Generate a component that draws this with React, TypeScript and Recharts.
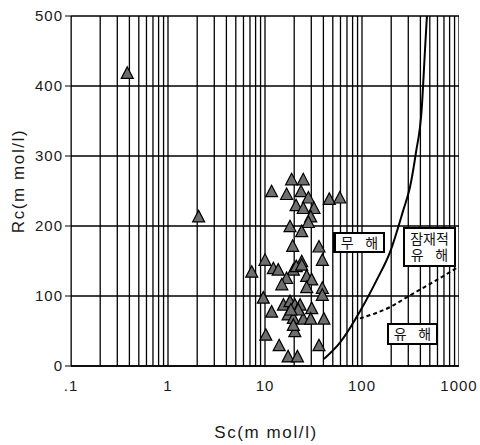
import React from "react";
import {
  CartesianGrid,
  ComposedChart,
  Line,
  ReferenceLine,
  Scatter,
  XAxis,
  YAxis,
} from "recharts";

document.body.style.margin = "0";

// Sc / Rc sample points (m mol/l)
const sc = [
  0.38, 2.07, 18.8, 24.8, 11.7, 16.7, 23.5, 28, 20.9, 24.8, 32, 46, 59, 29.6,
  28, 18.1, 23.9, 19.3, 36, 10, 23.9, 39, 7.3, 12.2, 13.7, 19.6, 21, 23.9, 16.7,
  26.9, 30.3, 14.9, 26.9, 39, 39, 9.6, 15.5, 18.1, 20.3, 23, 30.3, 11.7, 17.3,
  19.6, 24.8, 29.6, 40.5, 20.3, 10.2, 14, 36, 17.3, 21.6, 19.6, 22, 18.5,
];
const rc = [
  418, 213, 266, 266, 249, 245, 249, 240, 229, 225, 225, 238, 240, 213, 205,
  199, 192, 171, 170, 151, 149, 151, 134, 139, 137, 137, 142, 144, 125, 128,
  123, 116, 112, 111, 101, 97, 87, 92, 87, 87, 82, 77, 73, 68, 67, 67, 67, 49,
  44, 29, 29, 13, 13, 58, 80, 80,
];

// boundary: 무해 / 잠재적 유해 (solid)
const solidX = [40.5, 59, 99, 142, 195, 267, 313, 360, 412, 446, 467];
const solidY = [10, 33, 82, 123, 163, 223, 256, 305, 366, 451, 500];

// boundary: 잠재적 유해 / 유해 (dashed)
const dashX = [95, 200, 313, 500, 970];
const dashY = [68, 85, 101, 117, 141];

const xTicks = [0.1, 1, 10, 100, 1000];
const yTicks = [0, 100, 200, 300, 400, 500];
const decades = [0.1, 1, 10, 100];
const steps = [2, 3, 4, 5, 6, 7, 8, 9];

const points = sc.map((x, i) => ({ x, y: rc[i] }));
const solid = solidX.map((x, i) => ({ x, y: solidY[i] }));
const dashed = dashX.map((x, i) => ({ x, y: dashY[i] }));
const gridX = [
  ...xTicks,
  ...decades.flatMap((d) => steps.map((s) => +(d * s).toPrecision(3))),
];

const font = "'Liberation Sans', 'Noto Sans CJK KR', sans-serif";
const tickStyle = { fill: "#1a1a1a", fontSize: 15, fontFamily: font, letterSpacing: 1 };

const Triangle = (props: any) => {
  const { cx, cy } = props;
  if (cx == null || cy == null) return null;
  return (
    <polygon
      points={`${cx},${cy - 6.5} ${cx - 6},${cy + 5} ${cx + 6},${cy + 5}`}
      fill="#6e6e6e"
      stroke="#000"
      strokeWidth={1.2}
    />
  );
};

const box: React.CSSProperties = {
  position: "absolute",
  zIndex: 5,
  background: "#fff",
  border: "2px solid #000",
  fontFamily: font,
  fontSize: 14,
  color: "#111",
  boxSizing: "border-box",
  lineHeight: "16px",
  textAlign: "center",
};

const title: React.CSSProperties = {
  position: "absolute",
  whiteSpace: "nowrap",
  fontFamily: font,
  fontSize: 17,
  letterSpacing: 1.6,
  color: "#1a1a1a",
};

export default function App() {
  return (
    <div style={{ position: "relative", width: 480, height: 445, background: "#fff" }}>
      <ComposedChart
        width={480}
        height={445}
        margin={{ top: 16, right: 21, bottom: 49, left: 11 }}
      >
        <CartesianGrid vertical={false} stroke="#000" strokeWidth={1.3} />
        {gridX.map((v) => (
          <ReferenceLine key={v} x={v} stroke="#000" strokeWidth={1.3} ifOverflow="hidden" />
        ))}
        <XAxis
          dataKey="x"
          type="number"
          scale="log"
          domain={[0.1, 1000]}
          ticks={xTicks}
          allowDataOverflow
          tickFormatter={(v) => (v === 0.1 ? ".1" : String(v))}
          tickLine={false}
          axisLine={{ stroke: "#000", strokeWidth: 1.5 }}
          tickMargin={8}
          height={30}
          tick={tickStyle}
        />
        <YAxis
          dataKey="y"
          type="number"
          domain={[0, 500]}
          ticks={yTicks}
          width={60}
          tickSize={6}
          tickMargin={2}
          tickLine={{ stroke: "#000" }}
          axisLine={{ stroke: "#000" }}
          tick={tickStyle}
        />
        <Scatter data={points} shape={Triangle} isAnimationActive={false} />
        <Line
          data={solid}
          dataKey="y"
          type="monotone"
          stroke="#000"
          strokeWidth={2}
          dot={false}
          isAnimationActive={false}
        />
        <Line
          data={dashed}
          dataKey="y"
          type="monotone"
          stroke="#000"
          strokeWidth={2}
          strokeDasharray="4 3"
          dot={false}
          isAnimationActive={false}
        />
      </ComposedChart>

      <div style={{ ...box, left: 333, top: 232, width: 52, height: 21, paddingTop: 1, borderLeftWidth: 3 }}>
        무&nbsp;&nbsp;&nbsp;해
      </div>
      <div style={{ ...box, left: 403, top: 227, width: 53, height: 40, paddingTop: 2 }}>
        잠재적
        <br />
        유&nbsp;&nbsp;&nbsp;해
      </div>
      <div style={{ ...box, left: 387, top: 323, width: 51, height: 22, paddingTop: 1 }}>
        유&nbsp;&nbsp;&nbsp;해
      </div>

      <div style={{ ...title, left: 19, top: 181, transform: "translate(-50%, -50%) rotate(-90deg)" }}>
        Rc(m mol/l)
      </div>
      <div style={{ ...title, left: 266, top: 433, transform: "translate(-50%, -50%)" }}>
        Sc(m mol/l)
      </div>
    </div>
  );
}
